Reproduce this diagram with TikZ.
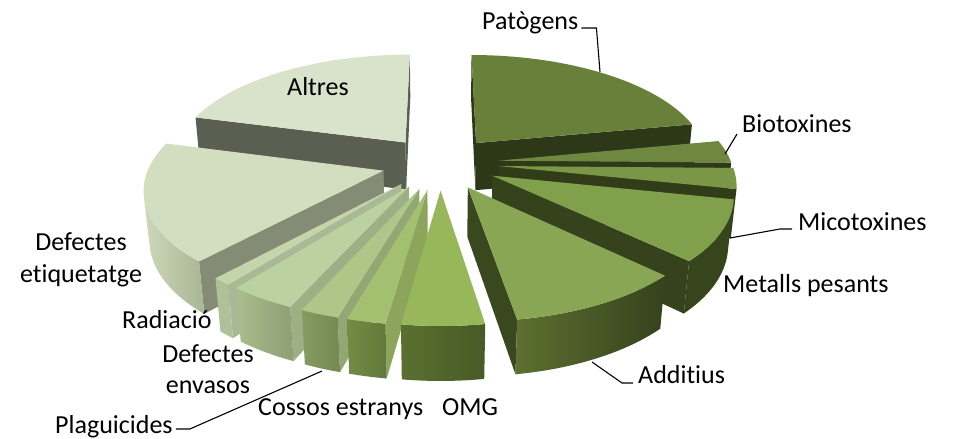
\documentclass[tikz,border=0pt]{standalone}
\usepackage{fontspec}
\setmainfont{Carlito}[Ligatures=NoCommon]
\def\pcL{6}
\def\pcS{0.4695}
\def\pcC{0.8829}
\def\pcX{440}
\def\pcY{163}
\def\pcKx{1400}
\def\pcKy{1360}
\def\pcE{0.25}
\def\pcH{0.245}
\definecolor{cAltT}{HTML}{D9E3CB}\definecolor{cAltC}{HTML}{5B5F51}
\definecolor{cEtqT}{HTML}{D3DEC0}\definecolor{cEtqC}{HTML}{858C76}
\definecolor{cEtqW1}{HTML}{CDD8BA}\definecolor{cEtqW2}{HTML}{A9B593}
\definecolor{cRadT}{HTML}{C4D5AB}\definecolor{cRadC}{HTML}{A9B995}\definecolor{cRadW}{HTML}{B0C19A}
\definecolor{cEnvT}{HTML}{BCD1A0}\definecolor{cEnvC}{HTML}{9DAF84}
\definecolor{cEnvW1}{HTML}{AABD8E}\definecolor{cEnvW2}{HTML}{8E9F73}
\definecolor{cPlgT}{HTML}{AEC789}\definecolor{cPlgC}{HTML}{91A874}
\definecolor{cPlgW1}{HTML}{869C62}\definecolor{cPlgW2}{HTML}{748952}
\definecolor{cCosT}{HTML}{A3C071}\definecolor{cCosC}{HTML}{8BA65C}
\definecolor{cCosW1}{HTML}{728C45}\definecolor{cCosW2}{HTML}{61793A}
\definecolor{cOmgT}{HTML}{98B65A}
\definecolor{cOmgW1}{HTML}{5A702F}\definecolor{cOmgW2}{HTML}{485A26}
\definecolor{cAddT}{HTML}{88A653}\definecolor{cAddC}{HTML}{3A4820}
\definecolor{cAddW1}{HTML}{5C7030}\definecolor{cAddW2}{HTML}{35421C}
\definecolor{cMetT}{HTML}{80A04C}\definecolor{cMetC}{HTML}{35421C}\definecolor{cMetW}{HTML}{37451D}
\definecolor{cMicT}{HTML}{7A9646}\definecolor{cMicC}{HTML}{313D19}\definecolor{cMicW}{HTML}{3A481F}
\definecolor{cBioT}{HTML}{6F8840}\definecolor{cBioC}{HTML}{2F3A18}
\definecolor{cPatT}{HTML}{68803A}\definecolor{cPatC}{HTML}{2D3818}
% #1 start angle, #2 end angle (clockwise from back), #3 top style, #4 cut-face style, #5 wall style
\newcommand\pieslice[5]{%
  \pgfmathsetmacro\slA{#1}%
  \pgfmathsetmacro\slB{#2}%
  \pgfmathsetmacro\slM{(#1+#2)/2}%
  \pgfmathsetmacro\slOX{\pcE*sin(\slM)}%
  \pgfmathsetmacro\slOY{\pcE*cos(\slM)}%
  \pgfmathsetmacro\slQ{\pcL*\pcC+\slOY}%
  \pgfmathsetmacro\slVA{\slOX*cos(\slA)-\slQ*sin(\slA)}%
  \pgfmathsetmacro\slVB{-\slOX*cos(\slB)+\slQ*sin(\slB)}%
  \pgfmathsetmacro\slR{sqrt(\slOX*\slOX+\slQ*\slQ)}%
  \pgfmathsetmacro\slPsi{atan2(\slOX,\slQ)}%
  \pgfmathsetmacro\slBeta{acos(-1/\slR)}%
  \pgfmathsetmacro\slLo{max(\slA,\slPsi+\slBeta)}%
  \pgfmathsetmacro\slHi{min(\slB,\slPsi+360-\slBeta)}%
  \coordinate (V1) at ({PX(\slOX,\slOY,0)},{PY(\slOX,\slOY,0)});
  \coordinate (V0) at ({PX(\slOX,\slOY,-\pcH)},{PY(\slOX,\slOY,-\pcH)});
  \coordinate (A1) at ({PX(\slOX+sin(\slA),\slOY+cos(\slA),0)},{PY(\slOX+sin(\slA),\slOY+cos(\slA),0)});
  \coordinate (A0) at ({PX(\slOX+sin(\slA),\slOY+cos(\slA),-\pcH)},{PY(\slOX+sin(\slA),\slOY+cos(\slA),-\pcH)});
  \coordinate (B1) at ({PX(\slOX+sin(\slB),\slOY+cos(\slB),0)},{PY(\slOX+sin(\slB),\slOY+cos(\slB),0)});
  \coordinate (B0) at ({PX(\slOX+sin(\slB),\slOY+cos(\slB),-\pcH)},{PY(\slOX+sin(\slB),\slOY+cos(\slB),-\pcH)});
  \ifdim\slVA pt>0pt \path[face,#4] (V1) -- (A1) -- (A0) -- (V0) -- cycle; \fi
  \ifdim\slVB pt>0pt \path[face,#4] (V1) -- (B1) -- (B0) -- (V0) -- cycle; \fi
  \ifdim\slLo pt<\slHi pt
    \path[face,#5] plot[domain=\slLo:\slHi,samples=50,variable=\t]
      ({PX(\slOX+sin(\t),\slOY+cos(\t),0)},{PY(\slOX+sin(\t),\slOY+cos(\t),0)})
      -- plot[domain=\slHi:\slLo,samples=50,variable=\t]
      ({PX(\slOX+sin(\t),\slOY+cos(\t),-\pcH)},{PY(\slOX+sin(\t),\slOY+cos(\t),-\pcH)}) -- cycle;
  \fi
  \path[face,#3] (V1) -- (A1) -- plot[domain=\slA:\slB,samples=60,variable=\t]
      ({PX(\slOX+sin(\t),\slOY+cos(\t),0)},{PY(\slOX+sin(\t),\slOY+cos(\t),0)}) -- cycle;
}
\begin{document}
\begin{tikzpicture}[x=1pt,y=-1pt,
  declare function={
    pdd(\X,\Y,\Z)=\pcL+\Y*\pcC-\Z*\pcS;
    PX(\X,\Y,\Z)=\pcX+\pcKx*\X/pdd(\X,\Y,\Z);
    PY(\X,\Y,\Z)=\pcY-\pcKy*(\Y*\pcS+\Z*\pcC)/pdd(\X,\Y,\Z);
  },
  face/.style={line join=round},
  lbl/.style={font=\fontsize{26}{31}\selectfont, inner sep=0pt, text=black},
  leader/.style={draw=black, line width=1.1pt}]
\useasboundingbox (0,0) rectangle (953,439);
\fill[white] (0,0) rectangle (953,439);
% slices, back to front
\pieslice{285}{360}{fill=cAltT}{fill=cAltC}{fill=cAltC}
\pieslice{0}{79}{fill=cPatT}{fill=cPatC}{fill=cPatC}
\pieslice{79}{91}{fill=cBioT}{fill=cBioC}{fill=cBioC}
\pieslice{91}{102}{fill=cMicT}{fill=cMicC}{fill=cMicW}
\pieslice{222}{285}{fill=cEtqT}{fill=cEtqC}{left color=cEtqW1,right color=cEtqW2}
\pieslice{102}{134}{fill=cMetT}{fill=cMetC}{fill=cMetW}
\pieslice{218}{222}{fill=cRadT}{fill=cRadC}{fill=cRadW}
\pieslice{204}{218}{fill=cEnvT}{fill=cEnvC}{left color=cEnvW1,right color=cEnvW2}
\pieslice{134}{171}{fill=cAddT}{fill=cAddC}{left color=cAddW1,right color=cAddW2}
\pieslice{196}{204}{fill=cPlgT}{fill=cPlgC}{left color=cPlgW1,right color=cPlgW2}
\pieslice{188}{196}{fill=cCosT}{fill=cCosC}{left color=cCosW1,right color=cCosW2}
\pieslice{171}{188}{fill=cOmgT}{fill=cOmgT}{left color=cOmgW1,right color=cOmgW2}
% labels
\node[lbl,anchor=base west] (alt) at (287,95) {Altres};
\node[lbl,anchor=base west] (pat) at (482,29) {Patògens};
\node[lbl,anchor=base west] (bio) at (742,132) {Biotoxines};
\node[lbl,anchor=base west] (mic) at (798,230) {Micotoxines};
\node[lbl,anchor=base west] (met) at (723,292) {Metalls pesants};
\node[lbl,anchor=base west] (add) at (638,383) {Additius};
\node[lbl,anchor=base west] (omg) at (442,415) {OMG};
\node[lbl,anchor=base west] (cos) at (258,415) {Cossos estranys};
\node[lbl,anchor=base west] (plg) at (55,433) {Plaguicides};
\node[lbl,anchor=base] (env1) at (208,362) {Defectes};
\node[lbl,anchor=base] (env2) at (208,393) {envasos};
\node[lbl,anchor=base west] (rad) at (122,328) {Radiació};
\node[lbl,anchor=base] (etq1) at (81,250) {Defectes};
\node[lbl,anchor=base] (etq2) at (81,282) {etiquetatge};
% leader end points
\coordinate (patE) at (600,72);
\coordinate (bioE) at (725,154);
\coordinate (micE) at (730,238);
\coordinate (addE) at (592,362);
\coordinate (plgE) at (322,371);
\draw[leader] ([xshift=3pt,yshift=1pt]pat.base east) -- ++(15,0) -- (patE);
\draw[leader] ([xshift=-5pt,yshift=-2pt]bio.base west) -- (bioE);
\draw[leader] ([xshift=-6pt,yshift=1pt]mic.base west) -- ++(-12,0) -- (micE);
\draw[leader] ([xshift=-5pt]add.base west) -- ++(-11,0) -- (addE);
\draw[leader] ([xshift=3pt,yshift=4pt]plg.base east) -- ++(14,0) -- (plgE);
\end{tikzpicture}
\end{document}
